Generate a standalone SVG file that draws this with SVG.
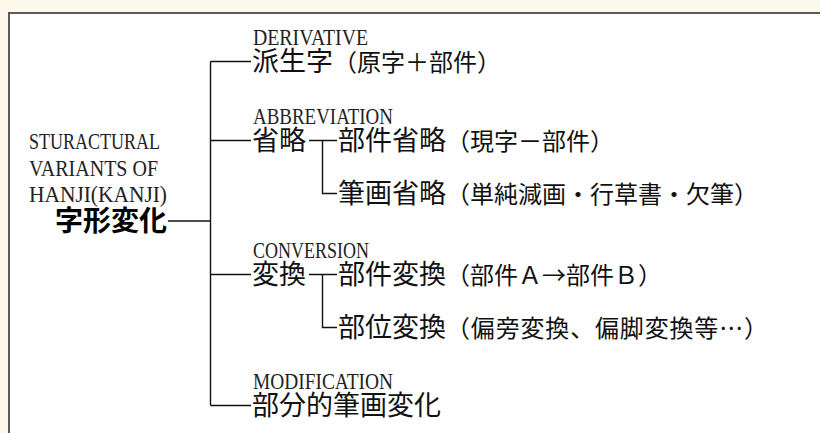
<svg xmlns="http://www.w3.org/2000/svg" width="820" height="433" viewBox="0 0 820 433">
<style>
.lat{font-family:"Liberation Serif",serif;font-size:23px;fill:#222;}
.jp{font-family:"Noto Sans CJK JP",sans-serif;font-size:27px;fill:#111;}
.sm{font-family:"Noto Sans CJK JP",sans-serif;font-size:24px;fill:#111;}
.root{font-family:"Noto Sans CJK JP",sans-serif;font-size:28px;font-weight:bold;fill:#000;}
.ln{stroke:#111;stroke-width:1.4;fill:none;}
</style>
<rect x="0" y="0" width="820" height="433" fill="#fdf8ec"/>
<rect x="9" y="13" width="830" height="440" fill="#fff" stroke="#5a5a5a" stroke-width="2"/>
<g id="connectors">
<path class="ln" d="M210.5 61.5 V405.5 M168 221 H210.5 M210.5 61.5 H251 M210.5 140.5 H251 M210.5 274.5 H251 M210.5 405.5 H251"/>
<path class="ln" d="M309 140.5 H337 M322.5 140.5 V193.5 H337"/>
<path class="ln" d="M309 274.5 H337 M322.5 274.5 V327.5 H337"/>
</g>
<g id="root">
<text class="lat" x="29" y="149" textLength="131" lengthAdjust="spacingAndGlyphs">STURACTURAL</text>
<text class="lat" x="29" y="176" textLength="129" lengthAdjust="spacingAndGlyphs">VARIANTS OF</text>
<text class="lat" x="29" y="202" textLength="138" lengthAdjust="spacingAndGlyphs">HANJI(KANJI)</text>
<text class="root" x="167" y="231" text-anchor="end">字形変化</text>
</g>
<g id="derivative">
<text class="lat" x="253" y="45" textLength="115" lengthAdjust="spacingAndGlyphs">DERIVATIVE</text>
<text x="252" y="71"><tspan class="jp">派生字</tspan><tspan class="sm">（原字＋部件）</tspan></text>
</g>
<g id="abbreviation">
<text class="lat" x="253" y="124" textLength="140" lengthAdjust="spacingAndGlyphs">ABBREVIATION</text>
<text class="jp" x="252" y="150">省略</text>
</g>
<g id="abbr-component">
<text x="338" y="150"><tspan class="jp">部件省略</tspan><tspan class="sm">（現字－部件）</tspan></text>
</g>
<g id="abbr-stroke">
<text x="338" y="203"><tspan class="jp">筆画省略</tspan><tspan class="sm">（単純減画・行草書・欠筆）</tspan></text>
</g>
<g id="conversion">
<text class="lat" x="253" y="258" textLength="116" lengthAdjust="spacingAndGlyphs">CONVERSION</text>
<text class="jp" x="252" y="284">変換</text>
</g>
<g id="conv-component">
<text x="338" y="284"><tspan class="jp">部件変換</tspan><tspan class="sm">（部件Ａ→部件Ｂ）</tspan></text>
</g>
<g id="conv-position">
<text x="338" y="337"><tspan class="jp">部位変換</tspan><tspan class="sm" textLength="322" lengthAdjust="spacing">（偏旁変換、偏脚変換等…）</tspan></text>
</g>
<g id="modification">
<text class="lat" x="253" y="389" textLength="140" lengthAdjust="spacingAndGlyphs">MODIFICATION</text>
<text class="jp" x="252" y="415">部分的筆画変化</text>
</g>
</svg>
